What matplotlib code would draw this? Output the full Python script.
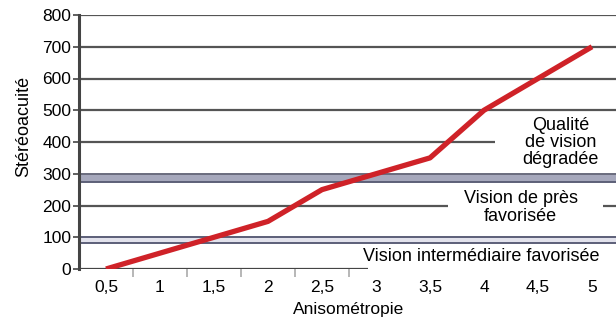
import matplotlib
matplotlib.use("Agg")
import matplotlib.pyplot as plt
from matplotlib.patches import Rectangle

# ---- data ----
categories = ["0,5", "1", "1,5", "2", "2,5", "3", "3,5", "4", "4,5", "5"]
stereo = [0, 50, 100, 150, 250, 300, 350, 500, 600, 700]
yticks = [0, 100, 200, 300, 400, 500, 600, 700, 800]
zone_labels = ["Qualité\nde vision\ndégradée", "Vision de près\nfavorisée",
               "Vision intermédiaire favorisée"]

plt.rcParams['font.family'] = ['Liberation Sans', 'DejaVu Sans']

fig = plt.figure(figsize=(6.16, 3.27), dpi=100)
ax = fig.add_axes([79/616, 58/327, 540/616, 254/327])

x = list(range(len(categories)))
ax.set_xlim(-0.5, len(categories) - 0.5)
ax.set_ylim(0, 800)

# grid lines
for v in yticks[1:]:
    if v in (100, 300):
        continue
    ax.axhline(v, color='#555555', lw=1.6, zorder=1)

# bands
ax.axhspan(275, 300, color='#a6a8bc', zorder=1, lw=0)
ax.axhline(300, color='#6a6c7e', lw=1.4, zorder=1)
ax.axhline(275, color='#5d6078', lw=1.4, zorder=1)
ax.axhspan(82, 100, color='#e2e2ec', zorder=1, lw=0)
ax.axhline(100, color='#5c5f78', lw=1.4, zorder=1)
ax.axhline(82, color='#5c5f78', lw=1.4, zorder=1)
ax.axhline(0, color='#444444', lw=1.6, zorder=1)

# white masks behind the zone labels
ax.add_patch(Rectangle((7.2, 310), 3, 170, fc='white', ec='none', zorder=2.4,
                       clip_on=False))
ax.add_patch(Rectangle((6.33, 110), 2.87, 155, fc='white', ec='none',
                       zorder=2.4))
ax.add_patch(Rectangle((4.85, -25), 6, 97, fc='white', ec='none', zorder=2.4,
                       clip_on=False))

ax.text(8.42, 398, zone_labels[0], ha='center', va='center', fontsize=13,
        linespacing=1.0, zorder=3)
ax.text(7.68, 193, zone_labels[1], ha='center', va='center', fontsize=13,
        linespacing=1.1, zorder=3)
ax.text(6.95, 38, zone_labels[2], ha='center', va='center', fontsize=13,
        zorder=3)

# main line
ax.plot(x, stereo, color='#cf2228', lw=3.8, solid_capstyle='butt',
        solid_joinstyle='round', zorder=4)

# spines
for s in ['top', 'right', 'bottom']:
    ax.spines[s].set_visible(False)
ax.spines['left'].set_color('#444444')
ax.spines['left'].set_linewidth(2.2)
ax.spines['left'].set_zorder(5)

ax.set_yticks(yticks)
ax.set_yticklabels([str(v) for v in yticks])
ax.tick_params(axis='y', length=4, width=1.2, color='#444444', pad=1.5,
               labelsize=12.5, direction='out')

ax.set_xticks(x)
ax.set_xticklabels(categories)
ax.tick_params(axis='x', which='major', length=0, pad=8, labelsize=12.5)
ax.set_xticks([i + 0.5 for i in x[:-1]], minor=True)
ax.tick_params(axis='x', which='minor', length=6, width=1.2, color='#aaaaaa',
               direction='out')

ax.set_xlabel('Anisométropie', fontsize=12.5, labelpad=5)
ax.set_ylabel('Stéréoacuité', fontsize=13)
ax.yaxis.set_label_coords(-0.087, 0.56)

fig.savefig('out.png', dpi=100)
